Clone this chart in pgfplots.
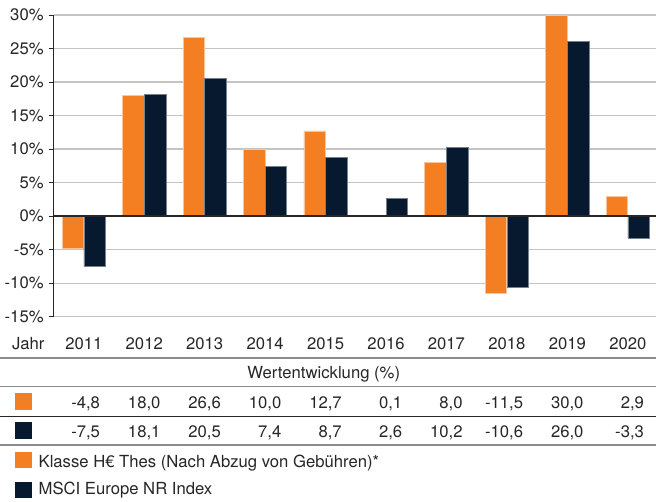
\documentclass[border=0pt]{standalone}
\usepackage{fontspec}
\setmainfont{TeX Gyre Heros}
\usepackage{pgfplots}
\pgfplotsset{compat=1.18}
\usepackage{pgfplotstable}
\definecolor{hOrange}{HTML}{F47F22}
\definecolor{hNavy}{HTML}{06192E}
\definecolor{txt}{HTML}{262626}
\definecolor{gridc}{HTML}{C4C4C4}
\definecolor{rulec}{HTML}{8C8C8C}

\pgfplotstableread{
idx fund index
0 -4.8 -7.5
1 18.0 18.1
2 26.6 20.5
3 10.0 7.4
4 12.7 8.7
5 0.1 2.6
6 8.0 10.2
7 -11.5 -10.6
8 30.0 26.0
9 2.9 -3.3
}\perfdata

\begin{document}
\begin{tikzpicture}[x=0.6pt,y=0.6pt]
\useasboundingbox (0,0) rectangle (656,501);
\begin{axis}[
  at={(32.16pt,110.64pt)}, anchor=south west,
  width=361.44pt, height=180.96pt, scale only axis,
  xmin=-0.5, xmax=9.467, ymin=-15, ymax=30,
  clip=false,
  axis x line*=bottom, axis y line*=left,
  x axis line style={draw=none},
  y axis line style={draw=txt, line width=0.6pt, -},
  xtick={0,1,2,3,4,5,6,7,8,9},
  xticklabels={2011,2012,2013,2014,2015,2016,2017,2018,2019,2020},
  ytick={-15,-10,-5,0,5,10,15,20,25,30},
  yticklabels={-15\%,-10\%,-5\%,0\%,5\%,10\%,15\%,20\%,25\%,30\%},
  ymajorgrids, major grid style={gridc, line width=0.7pt},
  tick align=outside, major tick length=3pt,
  ytick style={draw=txt, line width=0.6pt},
  xtick style={draw=none},
  yticklabel style={inner sep=0pt, xshift=-2.8pt, text=txt},
  xticklabel style={anchor=base, inner sep=0pt, yshift=-16.56pt, text=txt},
  bar width=0.356,
]
\addplot[ybar, bar shift=-0.18, fill=hOrange, draw=hOrange!45!white, line width=0.4pt]
  table[x=idx, y=fund]{\perfdata};
\addplot[ybar, bar shift=0.18, fill=hNavy, draw=hNavy!55!white, line width=0.4pt]
  table[x=idx, y=index]{\perfdata};
\draw[txt, line width=1.2pt] (axis cs:-0.5,0) -- (axis cs:9.467,0);

% table
\node[anchor=base west, inner sep=0pt, text=txt] at (axis cs:-1.193,-19.85) {Jahr};
\draw[rulec, line width=1.1pt] (axis cs:-1.387,-21.21) -- (axis cs:9.467,-21.21);
\node[anchor=base, inner sep=0pt, text=txt] at (axis cs:3.97,-24.22) {Wertentwicklung (\%)};
\draw[rulec, line width=0.9pt] (axis cs:-1.387,-25.45) -- (axis cs:9.467,-25.45);
\fill[hOrange] (axis cs:-1.138,-26.39) rectangle (axis cs:-0.855,-28.92);
\begin{scope}[every node/.style={anchor=base east, inner sep=0pt, text=txt}]
\node at (axis cs:0.273,-28.70) {-4,8};
\node at (axis cs:1.273,-28.70) {18,0};
\node at (axis cs:2.273,-28.70) {26,6};
\node at (axis cs:3.273,-28.70) {10,0};
\node at (axis cs:4.273,-28.70) {12,7};
\node at (axis cs:5.273,-28.70) {0,1};
\node at (axis cs:6.273,-28.70) {8,0};
\node at (axis cs:7.273,-28.70) {-11,5};
\node at (axis cs:8.273,-28.70) {30,0};
\node at (axis cs:9.273,-28.70) {2,9};
\node at (axis cs:0.273,-33.03) {-7,5};
\node at (axis cs:1.273,-33.03) {18,1};
\node at (axis cs:2.273,-33.03) {20,5};
\node at (axis cs:3.273,-33.03) {7,4};
\node at (axis cs:4.273,-33.03) {8,7};
\node at (axis cs:5.273,-33.03) {2,6};
\node at (axis cs:6.273,-33.03) {10,2};
\node at (axis cs:7.273,-33.03) {-10,6};
\node at (axis cs:8.273,-33.03) {26,0};
\node at (axis cs:9.273,-33.03) {-3,3};
\end{scope}
\draw[txt, line width=0.6pt] (axis cs:-1.387,-29.92) -- (axis cs:9.467,-29.92);
\fill[hNavy] (axis cs:-1.138,-30.71) rectangle (axis cs:-0.855,-33.24);
\draw[rulec, line width=0.9pt] (axis cs:-1.387,-34.14) -- (axis cs:9.467,-34.14);
% legend
\fill[hOrange] (axis cs:-1.138,-35.15) rectangle (axis cs:-0.855,-37.62);
\node[anchor=base west, inner sep=0pt, text=txt] at (axis cs:-0.753,-37.50) {Klasse H€ Thes (Nach Abzug von Gebühren)*};
\fill[hNavy] (axis cs:-1.138,-39.62) rectangle (axis cs:-0.855,-42.05);
\node[anchor=base west, inner sep=0pt, text=txt] at (axis cs:-0.753,-41.60) {MSCI Europe NR Index};
\end{axis}
\end{tikzpicture}
\end{document}
